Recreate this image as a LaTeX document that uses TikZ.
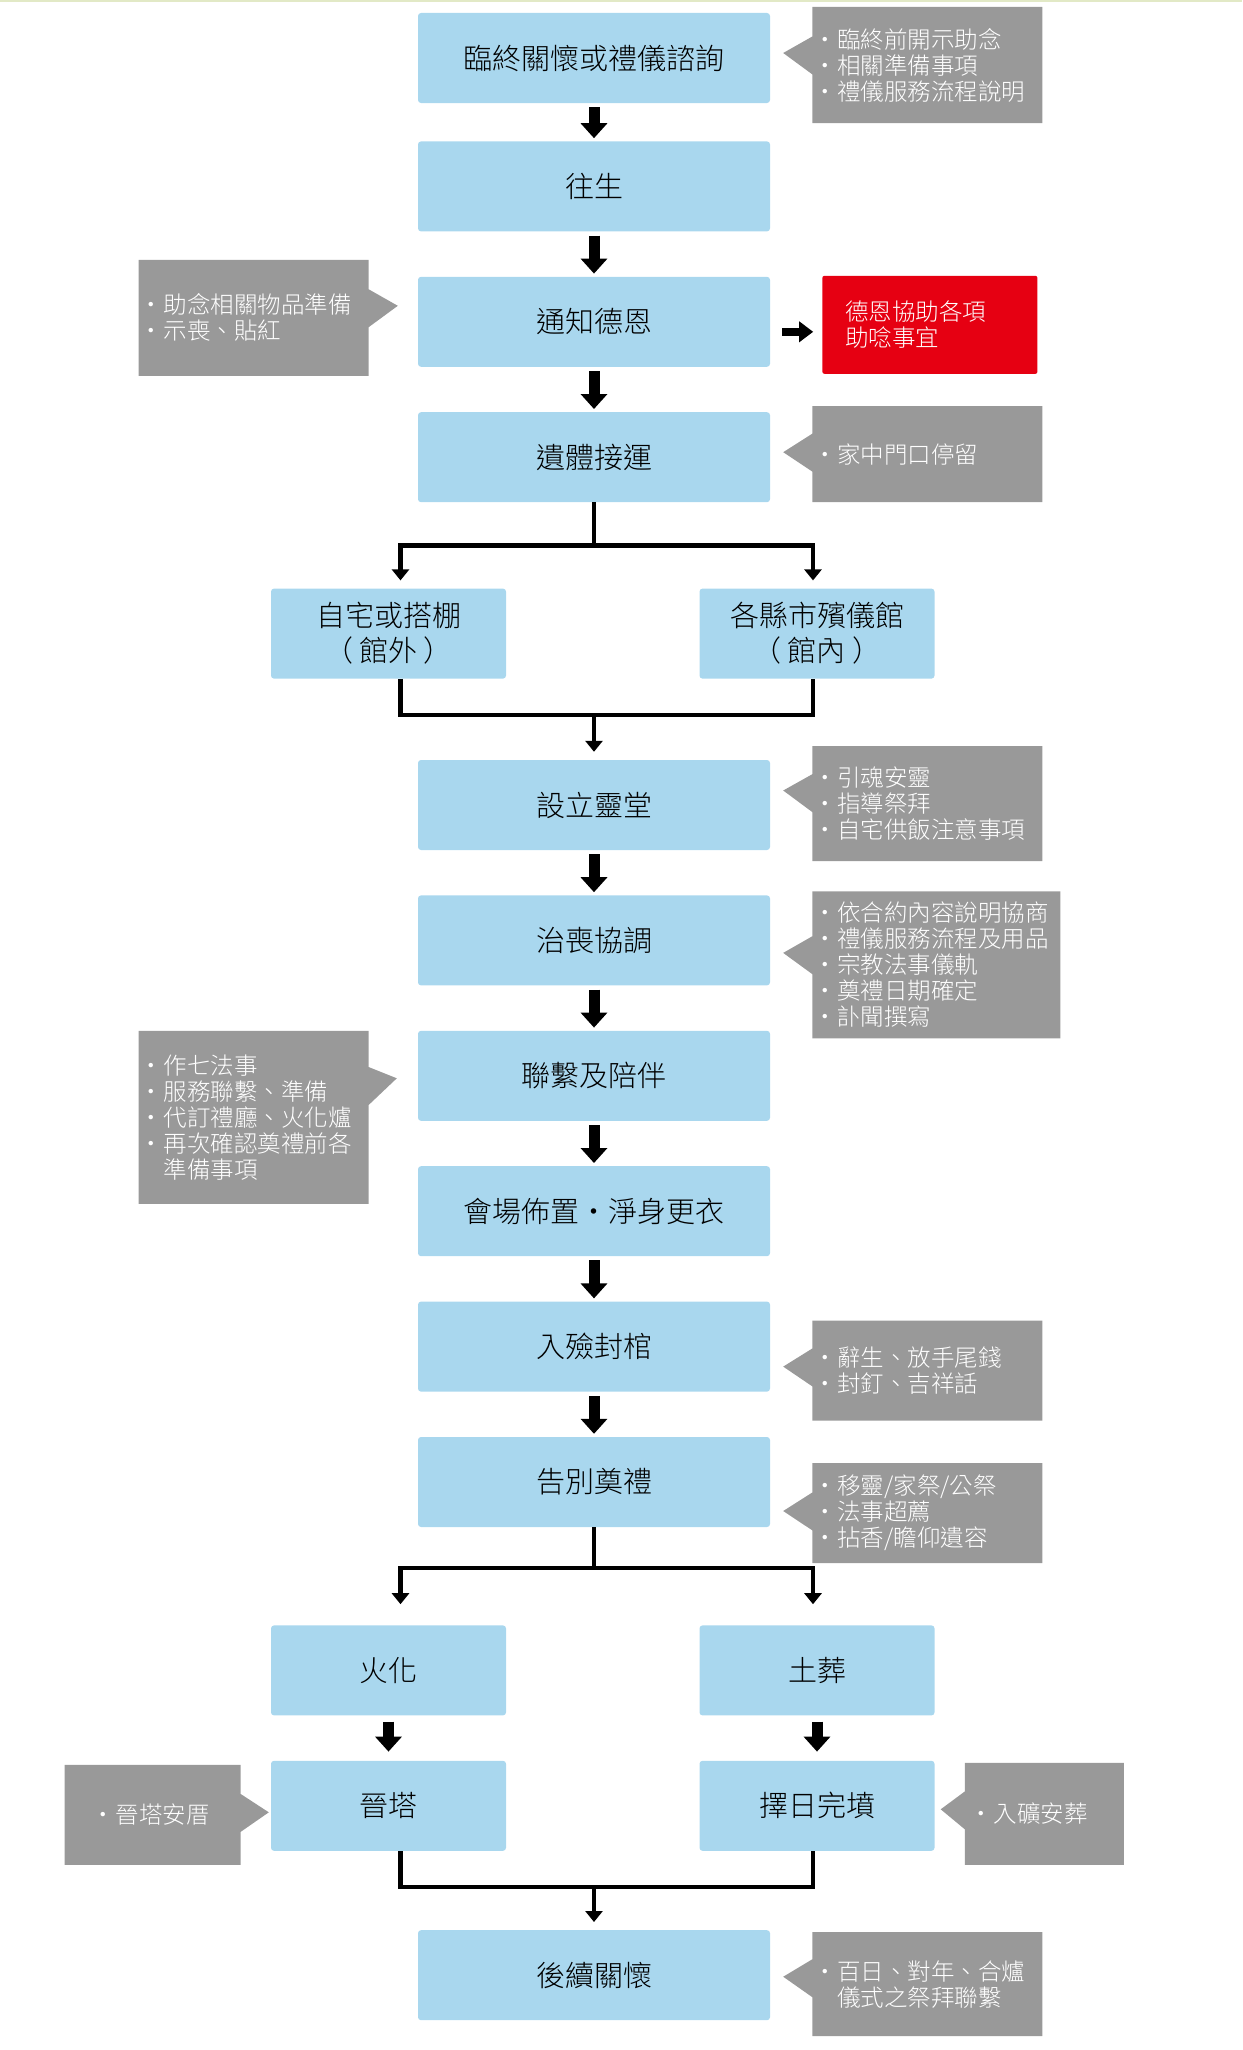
\documentclass[tikz,border=0pt]{standalone}
\usepackage{fontspec}
\IfFontExistsTF{Noto Sans CJK TC Light}
  {\setmainfont{Noto Sans CJK TC Light}}
  {\setmainfont{Noto Sans CJK TC}}
\usetikzlibrary{arrows.meta,positioning,calc,shapes.callouts}
\definecolor{boxblue}{HTML}{A9D7EE}
\definecolor{notegray}{HTML}{999999}
\definecolor{alertred}{HTML}{E60012}
\definecolor{rulegreen}{HTML}{E2E9C6}
\newcommand{\itm}{\makebox[20pt][l]{\hspace{-4pt}·}}
\tikzset{
  stepbox/.style={fill=boxblue, rounded corners=3pt, align=center, minimum width=352pt, minimum height=90pt, font=\fontsize{29}{35}\selectfont},
  forkbox/.style={stepbox, minimum width=235pt},
  note/.style={rectangle callout, fill=notegray, text=white, align=left, inner xsep=5pt, inner ysep=0pt, text width=220pt, callout pointer width=38pt, font=\fontsize{23.5}{26}\selectfont},
  alert/.style={fill=alertred, text=white, align=left, rounded corners=2pt, inner xsep=23pt, text width=169pt, minimum height=98pt, font=\fontsize{23.5}{26}\selectfont},
  bigarrow/.style={line width=11pt, -{Triangle[width=26pt,length=15pt]}, shorten <=4pt, shorten >=3pt},
  sidearrow/.style={line width=8pt, -{Triangle[width=20pt,length=14pt]}, shorten <=12pt, shorten >=9pt},
  link/.style={line width=4.5pt},
  linkarrow/.style={link, -{Triangle[width=17pt,length=11pt]}, shorten >=8pt},
}

\begin{document}
\begin{tikzpicture}[x=1pt, y=1pt, node distance=45pt]
  \useasboundingbox (0,0) rectangle (1242,-2050);
  \fill[rulegreen] (0,0) rectangle (1242,-2);

  % main column
  \node[stepbox] (consult) at (594,-58) {臨終關懷或禮儀諮詢};
  \node[stepbox, below=38pt of consult] (passing) {往生};
  \node[stepbox, below=of passing] (notify) {通知德恩};
  \node[stepbox, below=of notify] (transfer) {遺體接運};
  \node[forkbox, below=86pt of transfer, xshift=-205.5pt] (home) {自宅或搭棚\\（ 館外 ）};
  \node[forkbox, below=86pt of transfer, xshift=223pt] (hall) {各縣市殯儀館\\（ 館內 ）};
  \node[stepbox, below=81pt of home, xshift=205.5pt] (altar) {設立靈堂};
  \node[stepbox, below=of altar] (arrange) {治喪協調};
  \node[stepbox, below=of arrange] (accompany) {聯繫及陪伴};
  \node[stepbox, below=of accompany] (venue) {會場佈置・淨身更衣};
  \node[stepbox, below=of venue] (encoffin) {入殮封棺};
  \node[stepbox, below=of encoffin] (farewell) {告別奠禮};
  \node[forkbox, below=98pt of farewell, xshift=-205.5pt] (cremate) {火化};
  \node[forkbox, below=98pt of farewell, xshift=223pt] (bury) {土葬};
  \node[forkbox, below=of cremate] (inurn) {晉塔};
  \node[forkbox, below=of bury] (grave) {擇日完墳};
  \node[stepbox, below=79pt of inurn, xshift=205.5pt] (aftercare) {後續關懷};

  % side notes
  \node[note, minimum height=116pt, right=42pt of consult.north east, anchor=north west, yshift=6pt,
    callout absolute pointer={($(consult.east)+(13pt,5pt)$)}] (consultnote)
    {\itm 臨終前開示助念\\\itm 相關準備事項\\\itm 禮儀服務流程說明};
  \node[note, minimum height=116pt, left=49pt of notify.north west, anchor=north east, yshift=17pt,
    callout absolute pointer={($(notify.west)+(-20pt,16pt)$)}] (notifynote)
    {\itm 助念相關物品準備\\\itm 示喪、貼紅};
  \node[alert, right=52pt of notify.north east, anchor=north west, yshift=1pt] (assist)
    {德恩協助各項\\助唸事宜};
  \node[note, minimum height=96pt, right=42pt of transfer.north east, anchor=north west, yshift=6pt,
    callout absolute pointer={($(transfer.east)+(13pt,5pt)$)}] (transfernote)
    {\itm 家中門口停留};
  \node[note, minimum height=115pt, right=42pt of altar.north east, anchor=north west, yshift=14pt,
    callout absolute pointer={($(altar.east)+(13pt,14.5pt)$)}] (altarnote)
    {\itm 引魂安靈\\\itm 指導祭拜\\\itm 自宅供飯注意事項};
  \node[note, text width=238pt, minimum height=147pt, right=42pt of arrange.north east, anchor=north west, yshift=4pt,
    callout absolute pointer={($(arrange.east)+(13pt,-12.5pt)$)}] (arrangenote)
    {\itm 依合約內容說明協商\\\itm 禮儀服務流程及用品\\\itm 宗教法事儀軌\\\itm 奠禮日期確定\\\itm 訃聞撰寫};
  \node[note, minimum height=173pt, left=49pt of accompany.north west, anchor=north east,
    callout absolute pointer={($(accompany.west)+(-21pt,-2.5pt)$)}] (accompanynote)
    {\itm 作七法事\\\itm 服務聯繫、準備\\\itm 代訂禮廳、火化爐\\\itm 再次確認奠禮前各\\\hspace*{20pt}準備事項};
  \node[note, minimum height=100pt, right=42pt of encoffin.north east, anchor=north west, yshift=-19pt,
    callout absolute pointer={($(encoffin.east)+(13pt,-20pt)$)}] (encoffinnote)
    {\itm 辭生、放手尾錢\\\itm 封釘、吉祥話};
  \node[note, minimum height=100pt, right=42pt of farewell.north east, anchor=north west, yshift=-26pt,
    callout absolute pointer={($(farewell.east)+(13pt,-29pt)$)}] (farewellnote)
    {\itm 移靈/家祭/公祭\\\itm 法事超薦\\\itm 拈香/瞻仰遺容};
  \node[note, align=center, text width=, minimum width=176pt, minimum height=100pt, left=30pt of inurn.north west, anchor=north east, yshift=-4pt,
    callout absolute pointer={($(inurn.west)+(-2pt,-6.5pt)$)}] (inurnnote)
    {\itm 晉塔安厝};
  \node[note, inner xsep=9pt, text width=141pt, minimum height=102pt, right=30pt of grave.north east, anchor=north west, yshift=-2pt,
    callout absolute pointer={($(grave.east)+(6pt,-3.5pt)$)}] (gravenote)
    {\itm 入礦安葬};
  \node[note, minimum height=104pt, right=42pt of aftercare.north east, anchor=north west, yshift=-2pt,
    callout absolute pointer={($(aftercare.east)+(13pt,-1.5pt)$)}] (aftercarenote)
    {\itm 百日、對年、合爐\\\hspace*{20pt}儀式之祭拜聯繫};

  % straight steps
  \draw[bigarrow] (consult) -- (passing);
  \draw[bigarrow] (passing) -- (notify);
  \draw[bigarrow] (notify) -- (transfer);
  \draw[bigarrow] (altar) -- (arrange);
  \draw[bigarrow] (arrange) -- (accompany);
  \draw[bigarrow] (accompany) -- (venue);
  \draw[bigarrow] (venue) -- (encoffin);
  \draw[bigarrow] (encoffin) -- (farewell);
  \draw[bigarrow, shorten <=6pt, shorten >=9pt] (cremate) -- (inurn);
  \draw[bigarrow, shorten <=6pt, shorten >=9pt] (bury) -- (grave);
  \draw[sidearrow] ([yshift=-10pt]notify.east) -- ([yshift=-10pt]notify.east -| assist.west);

  % forks and joins
  \coordinate[below=43pt of transfer.south] (split1);
  \draw[link] (transfer.south) -- (split1);
  \draw[linkarrow] (split1) -| ([xshift=12pt]home.north);
  \draw[linkarrow] (split1) -| ([xshift=-4pt]hall.north);

  \coordinate (join1) at ($(home.south -| altar.north)+(0,-36pt)$);
  \draw[link] ([xshift=12pt]home.south) |- (join1) -| ([xshift=-4pt]hall.south);
  \draw[linkarrow] (join1) -- (altar.north);

  \coordinate[below=41pt of farewell.south] (split2);
  \draw[link] (farewell.south) -- (split2);
  \draw[linkarrow, shorten >=21pt] (split2) -| ([xshift=12pt]cremate.north);
  \draw[linkarrow, shorten >=21pt] (split2) -| ([xshift=-4pt]bury.north);

  \coordinate (join2) at ($(inurn.south -| aftercare.north)+(0,-36pt)$);
  \draw[link] ([xshift=12pt]inurn.south) |- (join2) -| ([xshift=-4pt]grave.south);
  \draw[linkarrow] (join2) -- (aftercare.north);
\end{tikzpicture}
\end{document}
